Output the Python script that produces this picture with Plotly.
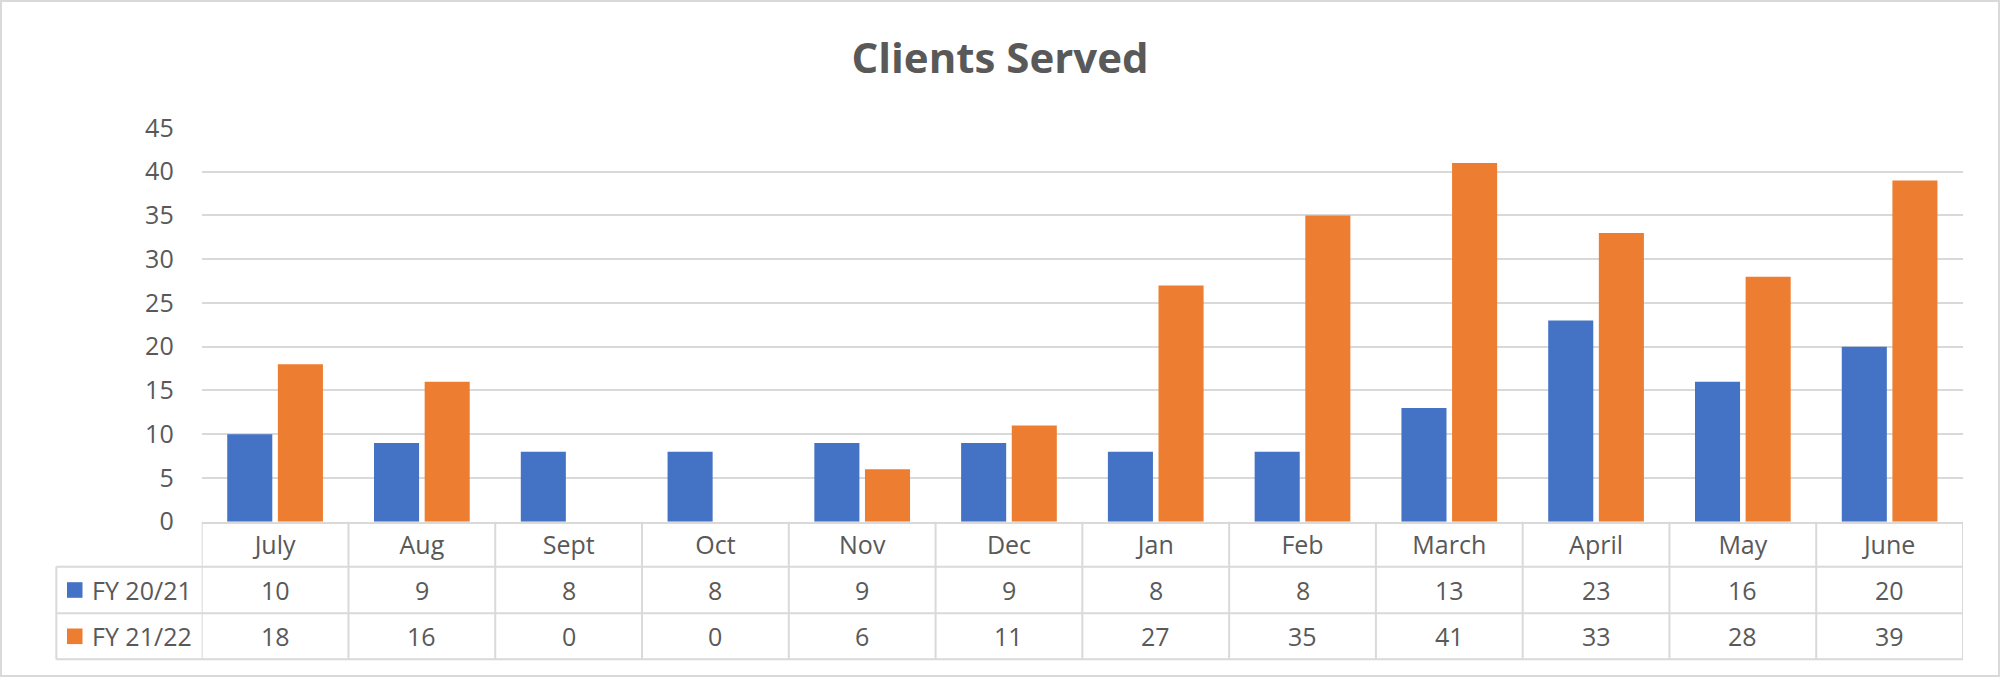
import plotly.graph_objects as go

# ---- data ----
months = ["July", "Aug", "Sept", "Oct", "Nov", "Dec", "Jan", "Feb", "March", "April", "May", "June"]
series_names = ["FY 20/21", "FY 21/22"]
fy2021 = [10, 9, 8, 8, 9, 9, 8, 8, 13, 23, 16, 20]
fy2122 = [18, 16, 0, 0, 6, 11, 27, 35, 41, 33, 28, 39]
y_ticks = [0, 5, 10, 15, 20, 25, 30, 35, 40, 45]
title_text = "Clients Served"

# ---- style ----
W, H = 2000, 677
BLUE = "#4472C4"
ORANGE = "#ED7D31"
GRID = "#D9D9D9"
TEXT = "#595959"
FONT = "Open Sans"

def px_x(px):
    return px / W

def px_y(py):
    return 1 - py / H

plot_left, plot_right = 201.7, 1963.0
plot_top, plot_bottom = 128.0, 521.7
row_lines = [566.7, 613.3, 659.3]     # bottoms of header / row1 / row2
legend_left = 56.3

fig = go.Figure()
colors = [BLUE, ORANGE]
for name, vals, col in zip(series_names, [fy2021, fy2122], colors):
    fig.add_trace(go.Bar(x=months, y=vals, name=name, marker=dict(color=col, line=dict(width=0)),
                         showlegend=False))

shapes = []
annotations = []

# outer chart border
shapes.append(dict(type="rect", xref="paper", yref="paper",
                   x0=px_x(1), x1=px_x(1999), y0=px_y(676), y1=px_y(1),
                   line=dict(color=GRID, width=2), fillcolor="rgba(0,0,0,0)", layer="below"))

# table vertical lines at category boundaries
for i in range(len(months) + 1):
    shapes.append(dict(type="line", xref="x", yref="paper",
                       x0=i - 0.5, x1=i - 0.5, y0=px_y(row_lines[-1]), y1=px_y(plot_bottom),
                       line=dict(color=GRID, width=2)))
# legend column left border
shapes.append(dict(type="line", xref="paper", yref="paper",
                   x0=px_x(legend_left), x1=px_x(legend_left),
                   y0=px_y(row_lines[-1]), y1=px_y(row_lines[0]),
                   line=dict(color=GRID, width=2)))
# horizontal row lines
for r in row_lines:
    shapes.append(dict(type="line", xref="paper", yref="paper",
                       x0=px_x(legend_left), x1=px_x(plot_right), y0=px_y(r), y1=px_y(r),
                       line=dict(color=GRID, width=2)))

# table rows: legend keys + values
row_tops = [row_lines[0], row_lines[1]]
row_bots = [row_lines[1], row_lines[2]]
for name, vals, col, rt, rb in zip(series_names, [fy2021, fy2122], colors, row_tops, row_bots):
    yc = (rt + rb) / 2
    shapes.append(dict(type="rect", xref="paper", yref="paper",
                       x0=px_x(67), x1=px_x(82.5), y0=px_y(yc + 7.8), y1=px_y(yc - 7.8),
                       fillcolor=col, line=dict(width=0)))
    annotations.append(dict(xref="paper", yref="paper", x=px_x(90), y=px_y(yc),
                            xanchor="left", yanchor="middle", showarrow=False,
                            text=name, font=dict(family=FONT, size=25, color=TEXT)))
    for m, v in zip(months, vals):
        annotations.append(dict(xref="x", yref="paper", x=m, y=px_y(yc),
                                xanchor="center", yanchor="middle", showarrow=False,
                                text=str(v), font=dict(family=FONT, size=25, color=TEXT)))

fig.update_layout(
    width=W, height=H, autosize=False,
    margin=dict(l=0, r=0, t=0, b=0, pad=0),
    paper_bgcolor="white", plot_bgcolor="white",
    template="none",
    title=dict(text="<b>" + title_text + "</b>", x=0.5, xanchor="center",
               y=px_y(58), yanchor="middle", yref="container",
               font=dict(family=FONT, size=42, color=TEXT)),
    barmode="group", bargap=0.31, bargroupgap=0.11,
    shapes=shapes, annotations=annotations,
    xaxis=dict(domain=[px_x(plot_left), px_x(plot_right)], type="category",
               range=[-0.5, len(months) - 0.5], automargin=False,
               showline=True, linecolor=GRID, linewidth=2, showgrid=False, zeroline=False,
               ticks="", ticklabelstandoff=0,
               tickfont=dict(family=FONT, size=25, color=TEXT), fixedrange=True),
    yaxis=dict(domain=[px_y(plot_bottom), px_y(plot_top)], range=[0, 45],
               tickvals=y_ticks, automargin=False,
               showgrid=True, gridcolor=GRID, gridwidth=2, zeroline=False, showline=False,
               ticks="", ticklabelstandoff=27,
               tickfont=dict(family=FONT, size=25, color=TEXT), fixedrange=True),
)

fig.write_html("out.html", config={"displayModeBar": False},
               post_script="document.body.style.margin='0';document.body.style.overflow='hidden';")
